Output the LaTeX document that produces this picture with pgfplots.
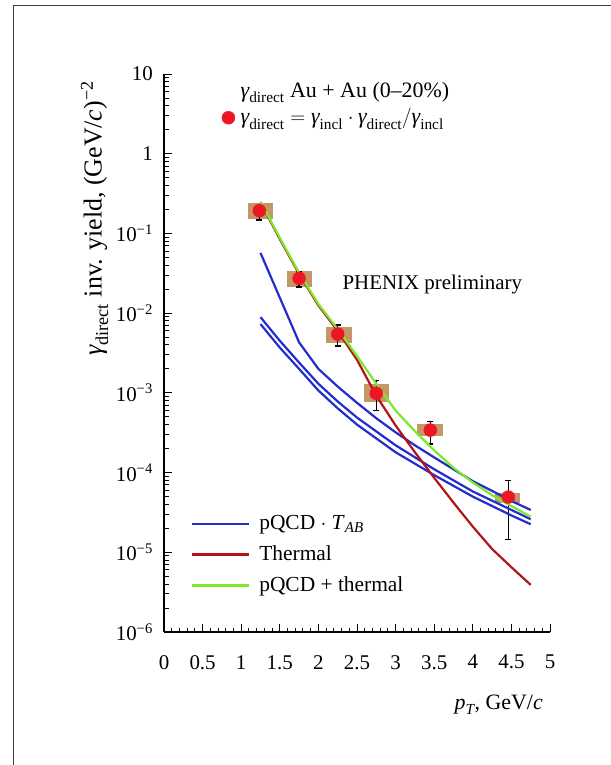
\documentclass[border=0pt]{standalone}
\usepackage{pgfplots}
\pgfplotsset{compat=1.18}
\usepackage{fontspec}
\usepackage{amsmath}
\setmainfont{Liberation Serif}
\definecolor{boxc}{RGB}{198,150,102}
\definecolor{ptred}{RGB}{236,22,36}
\definecolor{lblue}{RGB}{35,45,205}
\definecolor{lred}{RGB}{180,20,20}
\definecolor{lgreen}{RGB}{125,232,45}
\newcommand{\gd}{\textit{γ}_{\text{direct}}}
\newcommand{\gi}{\textit{γ}_{\text{incl}}}
\begin{document}
\fontsize{21}{25}\selectfont
\begin{tikzpicture}
\useasboundingbox (0bp,0bp) rectangle (611bp,-765bp);
\draw[line width=1bp, black!75] (13bp,-766bp) -- (13bp,-5bp) -- (612bp,-5bp);
\begin{axis}[
  at={(164bp,-632bp)}, anchor=south west,
  scale only axis, width=386bp, height=558bp,
  ymode=log, xmin=0, xmax=5, ymin=1e-6, ymax=10,
  axis lines=left, axis line style={-, line width=1.2bp},
  tick style={black, line width=1bp},
  major tick length=8bp, minor tick length=4.5bp,
  tick align=inside,
  xtick={0,0.5,1,1.5,2,2.5,3,3.5,4,4.5,5},
  xticklabels={0,0.5,1,1.5,2,2.5,3,3.5,4,4.5,5},
  xticklabel style={yshift=-16bp},
  yticklabel style={xshift=-4bp},
  minor x tick num=4,
  ytick={1e-6,1e-5,1e-4,1e-3,1e-2,1e-1,1,10},
  yticklabels={10$^{\text{−6}}$,10$^{\text{−5}}$,10$^{\text{−4}}$,10$^{\text{−3}}$,10$^{\text{−2}}$,10$^{\text{−1}}$,1,10},
  minor ytick={2e-6,3e-6,4e-6,5e-6,6e-6,7e-6,8e-6,9e-6,
    2e-5,3e-5,4e-5,5e-5,6e-5,7e-5,8e-5,9e-5,
    2e-4,3e-4,4e-4,5e-4,6e-4,7e-4,8e-4,9e-4,
    2e-3,3e-3,4e-3,5e-3,6e-3,7e-3,8e-3,9e-3,
    2e-2,3e-2,4e-2,5e-2,6e-2,7e-2,8e-2,9e-2,
    0.2,0.3,0.4,0.5,0.6,0.7,0.8,0.9,2,3,4,5,6,7,8,9},
  tick label style={font=\fontsize{21}{25}\selectfont, black},
  ylabel={$\gd$ inv. yield, (GeV/\textit{c})$^{\text{−2}}$},
  ylabel style={at={(axis description cs:-0.18,1.0)}, anchor=east, rotate=0, font=\fontsize{26}{30}\selectfont},
  xlabel={$\textit{p}_{\text{\itshape T}}$, GeV/\textit{c}},
  xlabel style={at={(axis description cs:1,-0.13)}, anchor=east, font=\fontsize{22}{26}\selectfont},
  legend style={at={(axis description cs:0.062,0.217)}, anchor=north west,
    draw=none, fill=none, font=\fontsize{21.5}{25}\selectfont, row sep=9bp},
  legend cell align=left,
  legend image code/.code={\draw[#1] (0bp,0bp) -- (57bp,0bp); \path (64bp,0bp);},
  clip=false,
]
% systematic boxes
\addplot[fill=boxc, draw=none, forget plot] coordinates {(1.09,0.151) (1.41,0.151) (1.41,0.24) (1.09,0.24)};
\addplot[fill=boxc, draw=none, forget plot] coordinates {(1.59,0.0213) (1.92,0.0213) (1.92,0.0337) (1.59,0.0337)};
\addplot[fill=boxc, draw=none, forget plot] coordinates {(2.10,0.00422) (2.44,0.00422) (2.44,0.0067) (2.10,0.0067)};
\addplot[fill=boxc, draw=none, forget plot] coordinates {(2.59,7.67e-4) (2.91,7.67e-4) (2.91,1.29e-3) (2.59,1.29e-3)};
\addplot[fill=boxc, draw=none, forget plot] coordinates {(3.28,2.87e-4) (3.61,2.87e-4) (3.61,4.06e-4) (3.28,4.06e-4)};
\addplot[fill=boxc, draw=none, forget plot] coordinates {(4.29,4.14e-5) (4.61,4.14e-5) (4.61,5.53e-5) (4.29,5.53e-5)};
% points
\addplot[only marks, mark=*, mark size=6.5bp, ptred, mark options={draw=ptred, fill=ptred}, forget plot] coordinates {
(1.235,0.193) (1.75,0.0273) (2.25,0.00547) (2.75,9.86e-4) (3.45,3.41e-4) (4.46,4.93e-5)};
% error bars
\addplot[draw=none, mark=none, forget plot,
  error bars/.cd, y dir=both, y explicit,
  error bar style={black, line width=1.4bp},
  error mark options={black, mark size=3bp, line width=1.4bp, rotate=90}] coordinates {
(1.235,0.193) += (0,0.03) -= (0,0.046)
(1.75,0.0273) += (0,0.0055) -= (0,0.006)
(2.25,0.00547) += (0,0.0016) -= (0,0.0016)
(2.75,9.86e-4) += (0,4.5e-4) -= (0,3.8e-4)
(3.45,3.41e-4) += (0,1.0e-4) -= (0,1.13e-4)
(4.46,4.93e-5) += (0,2.96e-5) -= (0,3.48e-5)};
% curves
\addplot[lblue, line width=2.2bp] coordinates {
(1.25,0.057) (1.75,0.0043) (2.0,0.002) (2.25,1.2e-3) (2.5,7.5e-4) (2.75,4.8e-4) (3.0,3.2e-4) (3.25,2.2e-4) (3.5,1.55e-4) (3.75,1.1e-4) (4.0,7.8e-5) (4.25,5.9e-5) (4.5,4.4e-5) (4.75,3.4e-5)};
\addlegendentry{pQCD $\cdot$ \textit{T}$_{\text{\itshape AB}}$}
\addplot[lblue, line width=2.2bp, forget plot] coordinates {
(1.25,8.9e-3) (1.5,4.5e-3) (1.75,2.4e-3) (2.0,1.3e-3) (2.25,7.8e-4) (2.5,4.9e-4) (3.0,2.2e-4) (3.5,1.1e-4) (4.0,5.8e-5) (4.5,3.4e-5) (4.75,2.6e-5)};
\addplot[lblue, line width=2.2bp, forget plot] coordinates {
(1.25,7.3e-3) (1.5,3.7e-3) (1.75,2.0e-3) (2.0,1.07e-3) (2.25,6.4e-4) (2.5,4.0e-4) (3.0,1.8e-4) (3.5,9.3e-5) (4.0,5.0e-5) (4.5,2.9e-5) (4.75,2.25e-5)};
\addplot[lred, line width=2.2bp] coordinates {
(1.25,0.245) (1.5,0.085) (1.75,0.031) (2.0,0.0125) (2.25,6.0e-3) (2.5,2.6e-3) (2.75,9.2e-4) (3.0,3.9e-4) (3.25,1.8e-4) (3.5,8.6e-5) (3.75,4.2e-5) (4.0,2.1e-5) (4.25,1.1e-5) (4.5,6.5e-6) (4.75,3.9e-6)};
\addlegendentry{Thermal}
\addplot[lgreen, line width=2.2bp] coordinates {
(1.25,0.25) (1.5,0.088) (1.75,0.032) (2.0,0.013) (2.25,6.3e-3) (2.5,2.9e-3) (2.75,1.3e-3) (3.0,6.0e-4) (3.25,3.3e-4) (3.5,1.9e-4) (3.75,1.15e-4) (4.0,7.5e-5) (4.25,5.2e-5) (4.5,3.8e-5) (4.75,2.8e-5)};
\addlegendentry{pQCD + thermal}
\node[anchor=west, font=\fontsize{21}{25}\selectfont] at (axis cs:2.22,0.0232) {PHENIX preliminary};
\end{axis}
\begin{axis}[
  at={(164bp,-632bp)}, anchor=south west,
  scale only axis, width=386bp, height=558bp,
  ymode=log, xmin=0, xmax=5, ymin=1e-6, ymax=10,
  hide axis,
  legend style={at={(axis description cs:0.14,0.993)}, anchor=north west,
    draw=none, fill=none, font=\fontsize{22}{26}\selectfont, row sep=4bp},
  legend cell align=left,
  legend image code/.code={\draw[#1] plot coordinates {(7bp,0bp)}; \path (0bp,0bp) (17bp,0bp);},
]
\addlegendimage{empty legend}
\addlegendentry{$\gd$ Au + Au (0–20\%)}
\addlegendimage{only marks, mark=*, mark size=6.5bp, draw=ptred, fill=ptred}
\addlegendentry{$\gd = \gi \cdot \gd/\gi$}
\end{axis}
\end{tikzpicture}
\end{document}
